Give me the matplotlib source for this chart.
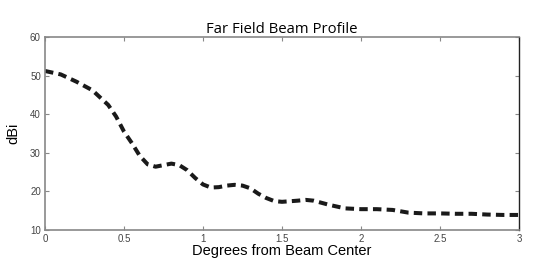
import matplotlib
matplotlib.use('Agg')
import matplotlib.pyplot as plt

# Dados
graus = [0.0, 0.1, 0.2, 0.3, 0.4, 0.45, 0.5, 0.55, 0.6, 0.65, 0.7, 0.75, 0.8, 0.85,
         0.9, 0.95, 1.0, 1.05, 1.1, 1.15, 1.2, 1.25, 1.3, 1.35, 1.4, 1.45, 1.5,
         1.6, 1.65, 1.7, 1.8, 1.9, 2.0, 2.1, 2.2, 2.3, 2.4, 2.5, 2.6, 2.7, 2.8,
         2.9, 3.0]
dbi = [51.2, 50.3, 48.4, 46.2, 42.4, 39.4, 35.5, 32.5, 29.2, 27.0, 26.4, 26.8, 27.2, 26.8,
       25.5, 23.5, 21.8, 21.0, 21.1, 21.5, 21.7, 21.5, 20.8, 19.4, 18.3, 17.5, 17.3,
       17.6, 17.8, 17.6, 16.5, 15.6, 15.4, 15.4, 15.2, 14.5, 14.3, 14.3, 14.2, 14.2, 14.0,
       13.9, 13.9]

xticks = [0, 0.5, 1, 1.5, 2, 2.5, 3]
xtick_labels = ['0', '0.5', '1', '1.5', '2', '2.5', '3']
yticks = [10, 20, 30, 40, 50, 60]

fig = plt.figure(figsize=(5.5, 2.73), dpi=100)
ax = fig.add_axes([0.0818, 0.1575, 0.8618, 0.707])

ax.plot(graus, dbi, color='#1a1a1a', linewidth=2.9, linestyle=(0, (2.1, 1.3)),
        dash_capstyle='butt')

ax.set_xlim(0, 3)
ax.set_ylim(10, 60)
ax.set_xticks(xticks)
ax.set_xticklabels(xtick_labels)
ax.set_yticks(yticks)

ax.tick_params(direction='in', length=3, width=0.8, colors='#888888',
               labelcolor='#444444', labelsize=7, top=True, right=True, pad=3)
for lado in ['left', 'bottom', 'top']:
    ax.spines[lado].set_color('#888888')
    ax.spines[lado].set_linewidth(1.2)
ax.spines['right'].set_color('#222222')
ax.spines['right'].set_linewidth(1.0)

for t in ax.get_xticklabels() + ax.get_yticklabels():
    t.set_family('Liberation Sans')

ax.set_title('Far Field Beam Profile', fontsize=10.7, family='Open Sans', pad=3)
ax.set_xlabel('Degrees from Beam Center', fontsize=10.5, family='Liberation Sans', labelpad=0)
ax.set_ylabel('dBi', fontsize=10.5, family='Liberation Sans', labelpad=7)

fig.savefig('out.png', dpi=100)
